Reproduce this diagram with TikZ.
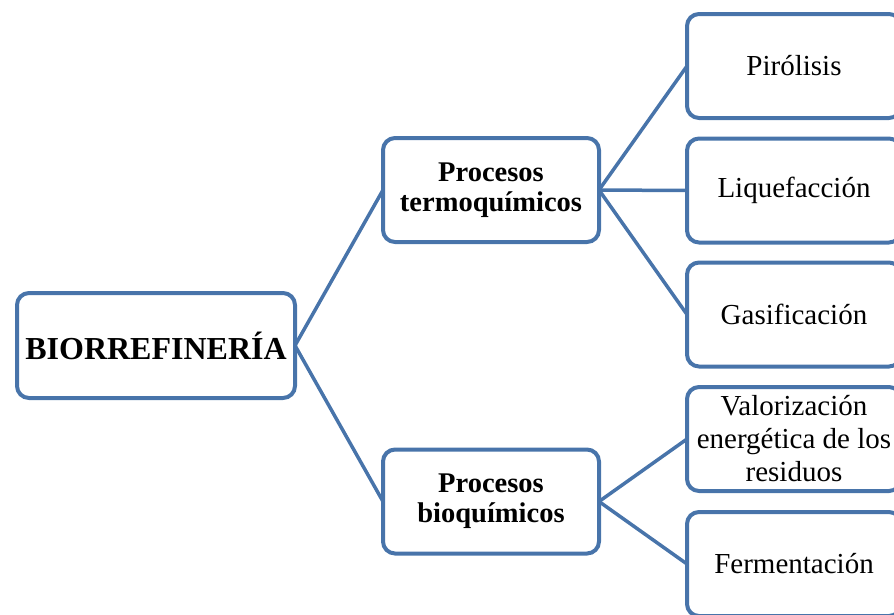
\documentclass[tikz,border=0pt]{standalone}
\usepackage{fontspec}
\setmainfont{Liberation Serif}
\definecolor{boxblue}{RGB}{72,116,170}
\begin{document}
\begin{tikzpicture}[x=1pt,y=-1pt,
  box/.style={draw=boxblue, line width=4pt, rounded corners=12pt, fill=white,
    align=center, inner sep=2pt, outer sep=0pt},
  link/.style={draw=boxblue, line width=3.5pt},
  leaf/.style={box, minimum width=214pt, minimum height=104pt,
    font=\fontsize{29}{33}\selectfont},
  mid/.style={box, minimum width=216pt, minimum height=104pt,
    font=\fontsize{28.5}{30}\selectfont\bfseries}]
\useasboundingbox (0,0) rectangle (894,614);
\begin{scope}
\clip (0,0) rectangle (894,614);
\node[box, minimum width=278pt, minimum height=105pt,
  font=\fontsize{32}{36}\selectfont\bfseries] (root) at (156,345.5) {BIORREFINERÍA};
\node[mid] (termo) at (491,190) {Procesos\\termoquímicos};
\node[mid] (bioq) at (491,501.5) {Procesos\\bioquímicos};
\node[leaf] (piro) at (794,66) {Pirólisis};
\node[leaf] (liq) at (794,190.5) {Liquefacción};
\node[leaf] (gas) at (794,314.5) {Gasificación};
\node[leaf] (val) at (794,439) {Valorización\\energética de los\\residuos};
\node[leaf] (ferm) at (794,564) {Fermentación};
\draw[link] (root.east) -- (termo.west);
\draw[link] (root.east) -- (bioq.west);
\draw[link] (termo.east) -- (piro.west);
\draw[link] (termo.east) -- (liq.west);
\draw[link] (termo.east) -- (gas.west);
\draw[link] (bioq.east) -- (val.west);
\draw[link] (bioq.east) -- (ferm.west);
\end{scope}
\end{tikzpicture}
\end{document}
